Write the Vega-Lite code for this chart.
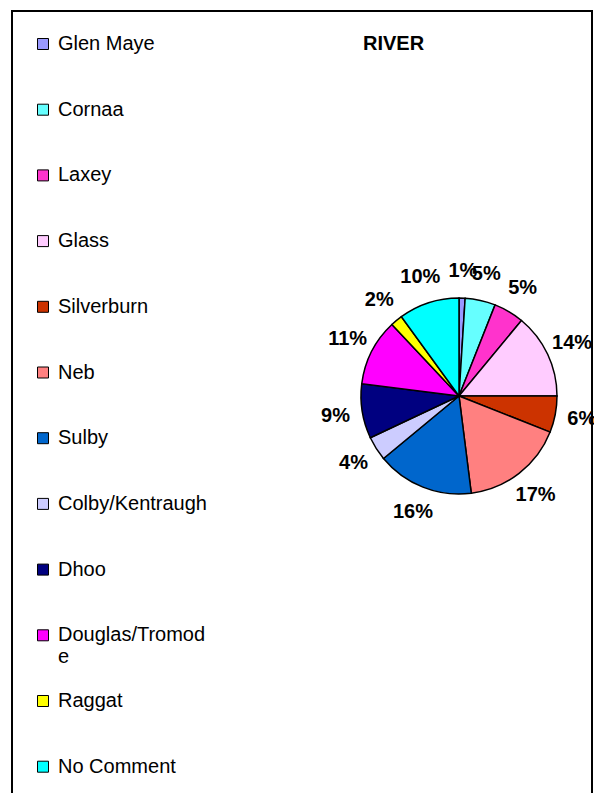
{
  "$schema": "https://vega.github.io/schema/vega-lite/v6.json",
  "padding": {"left": 11, "top": 10, "right": 0, "bottom": 0},
  "autosize": "pad",
  "background": "white",
  "title": {"text": "RIVER", "anchor": "start", "frame": "group", "dx": 351, "offset": -54, "baseline": "middle", "font": "Liberation Sans", "fontSize": 20, "fontWeight": "bold", "color": "black"},
  "spacing": 0,
  "bounds": "flush",
  "hconcat": [
    {
      "width": 314,
      "height": 800,
      "view": {"stroke": "black", "strokeWidth": 2, "strokeDash": [314, 1114, 800]},
      "data": {"values": []},
      "mark": "point"
    },
    {
      "spacing": 0,
      "bounds": "flush",
      "vconcat": [
        {
          "width": 266,
          "height": 770,
          "view": {"stroke": "black", "strokeWidth": 2, "strokeDash": [1036, 1036]},
          "data": {"values": [
            {"idx": 1, "river": "Glen Maye", "pct": 0.01},
            {"idx": 2, "river": "Cornaa", "pct": 0.05},
            {"idx": 3, "river": "Laxey", "pct": 0.05},
            {"idx": 4, "river": "Glass", "pct": 0.14},
            {"idx": 5, "river": "Silverburn", "pct": 0.06},
            {"idx": 6, "river": "Neb", "pct": 0.17},
            {"idx": 7, "river": "Sulby", "pct": 0.16},
            {"idx": 8, "river": "Colby/Kentraugh", "pct": 0.04},
            {"idx": 9, "river": "Dhoo", "pct": 0.09},
            {"idx": 10, "river": "Douglas/Tromode", "pct": 0.11},
            {"idx": 11, "river": "Raggat", "pct": 0.02},
            {"idx": 12, "river": "No Comment", "pct": 0.10}
          ]},
          "encoding": {
            "theta": {"field": "pct", "type": "quantitative", "stack": true},
            "order": {"field": "idx", "type": "quantitative"}
          },
          "layer": [
            {
              "mark": {"type": "arc", "outerRadius": 98, "stroke": "black", "strokeWidth": 1.5},
              "encoding": {
                "color": {
                  "field": "river", "type": "nominal",
                  "scale": {
                    "domain": ["Glen Maye", "Cornaa", "Laxey", "Glass", "Silverburn", "Neb", "Sulby", "Colby/Kentraugh", "Dhoo", "Douglas/Tromode", "Raggat", "No Comment"],
                    "range": ["#9999FF", "#66FFFF", "#FF33CC", "#FFCCFF", "#CC3300", "#FF8080", "#0066CC", "#CCCCFF", "#000080", "#FF00FF", "#FFFF00", "#00FFFF"]
                  },
                  "legend": {
                    "title": null,
                    "orient": "none",
                    "legendX": 21,
                    "legendY": 23,
                    "symbolType": "square",
                    "symbolSize": 121,
                    "symbolStrokeColor": "black",
                    "symbolStrokeWidth": 1,
                    "symbolOpacity": 1,
                    "labelFont": "Liberation Sans",
                    "labelFontSize": 20,
                    "labelColor": "black",
                    "labelOffset": 5,
                    "labelLimit": 400,
                    "rowPadding": 23.7,
                    "labelExpr": "datum.label == 'Douglas/Tromode' ? ['Douglas/Tromod', 'e'] : [datum.label, '']"
                  }
                }
              }
            },
            {
              "mark": {"type": "text", "radius": 125, "font": "Liberation Sans", "fontSize": 20, "fontWeight": "bold", "color": "black", "align": "center", "baseline": "middle"},
              "encoding": {
                "detail": {"field": "river", "type": "nominal"},
                "text": {"field": "pct", "type": "quantitative", "format": ".0%"}
              }
            }
          ]
        },
        {
          "width": 266,
          "height": 30,
          "view": {"stroke": "black", "strokeWidth": 2, "strokeDash": [0, 266, 30, 296]},
          "data": {"values": []},
          "mark": "point"
        }
      ]
    }
  ],
  "config": {"font": "Liberation Sans", "view": {"stroke": null}, "concat": {"spacing": 0}}
}
